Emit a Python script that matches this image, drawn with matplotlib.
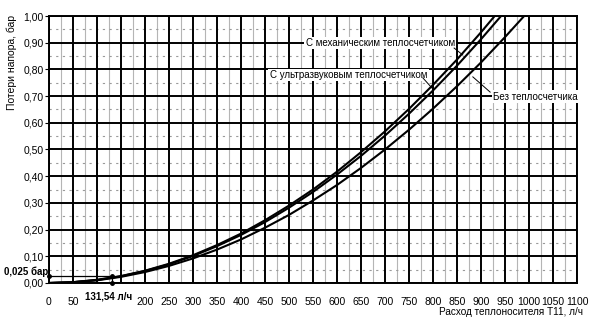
import matplotlib
matplotlib.use("Agg")
import matplotlib.pyplot as plt
import numpy as np

# Flow rate, l/h
flow = [0, 50, 100, 150, 200, 250, 300, 350, 400, 450, 500, 550, 600, 650,
        700, 750, 800, 850, 900, 950, 1000]
# Pressure loss, bar
loss_mech = [0, 0.003, 0.012, 0.026, 0.046, 0.072, 0.104, 0.142, 0.185, 0.235,
             0.290, 0.350, 0.417, 0.490, 0.568, 0.652, 0.742, 0.837, 0.939, 1.046, 1.16]
loss_ultra = [0, 0.003, 0.011, 0.025, 0.045, 0.070, 0.101, 0.138, 0.180, 0.228,
              0.282, 0.341, 0.406, 0.476, 0.552, 0.634, 0.721, 0.814, 0.913, 1.017, 1.13]
loss_none = [0, 0.003, 0.010, 0.023, 0.041, 0.064, 0.092, 0.125, 0.163, 0.207,
             0.255, 0.309, 0.367, 0.431, 0.500, 0.574, 0.653, 0.737, 0.826, 0.921, 1.020]

x_ticks = list(range(0, 1101, 50))
y_ticks = [round(v * 0.1, 1) for v in range(11)]

min_flow = 131.54
min_loss = 0.025

plt.rcParams['font.family'] = ['Liberation Sans', 'DejaVu Sans']
fig = plt.figure(figsize=(5.98, 3.32), dpi=100)
ax = fig.add_axes([0.0819, 0.1476, 0.8830, 0.8042])

ax.set_xlim(0, 1100)
ax.set_ylim(0, 1.0)

# grid: heavy major lines, faint minor lines
for x in np.arange(25, 1100, 50):
    ax.axvline(x, color='#b5b5b5', lw=0.8, zorder=1)
for y in np.arange(0.05, 1.0, 0.1):
    ax.axhline(y, color='#9a9a9a', lw=0.8, ls=(0, (2, 4)), zorder=1)
for x in x_ticks:
    ax.axvline(x, color='black', lw=1.4, zorder=2)
for y in y_ticks:
    ax.axhline(y, color='black', lw=1.4, zorder=2)

for s in ax.spines.values():
    s.set_color('black')
    s.set_linewidth(1.4)

ax.plot(flow, loss_mech, color='black', lw=1.5, zorder=4)
ax.plot(flow, loss_ultra, color='black', lw=1.5, zorder=4)
ax.plot(flow, loss_none, color='black', lw=1.5, zorder=4)

# minimum flow marker
ax.plot([0, min_flow, min_flow], [min_loss, min_loss, 0], color='black',
        lw=0.9, zorder=5, clip_on=False)
ax.plot([0, min_flow, min_flow], [min_loss, min_loss, 0], 'o', color='black',
        ms=2.5, zorder=6, clip_on=False)

ax.set_xticks(x_ticks)
ax.set_xticklabels(['' if v in (100, 150) else str(v) for v in x_ticks], fontsize=7.5)
ax.set_yticks(y_ticks)
ax.set_yticklabels([f"{v:.2f}".replace('.', ',') for v in y_ticks], fontsize=7.5)
ax.tick_params(axis='x', length=0, pad=10)
ax.tick_params(axis='y', length=3, width=0.8, pad=1)

ax.text(124, -0.05, f"{min_flow:.2f}".replace('.', ',') + " л/ч", fontsize=7,
        fontweight='bold', ha='center', va='center')
ax.text(-1, 0.043, "0,025 бар", fontsize=7, fontweight='bold',
        ha='right', va='center')

ax.set_ylabel("Потери напора, бар", fontsize=7.5)
ax.yaxis.set_label_coords(-0.061, 0.824)
fig.text(0.975, 0.06, "Расход теплоносителя Т11, л/ч", fontsize=7.2,
         ha='right', va='center')

box = dict(boxstyle='square,pad=0.15', fc='white', ec='none')
ax.text(535, 0.899, "С механическим теплосчетчиком", fontsize=7,
        ha='left', va='center', bbox=box, zorder=7)
ax.plot([844, 862], [0.880, 0.854], color='black', lw=0.7, zorder=7)
ax.text(460, 0.779, "С ультразвуковым теплосчетчиком", fontsize=7,
        ha='left', va='center', bbox=box, zorder=7)
ax.plot([779, 798], [0.768, 0.730], color='black', lw=0.7, zorder=7)
ax.text(925, 0.697, "Без теплосчетчика", fontsize=7,
        ha='left', va='center', bbox=box, zorder=7)
ax.plot([919, 883], [0.715, 0.772], color='black', lw=0.7, zorder=7)

fig.savefig("out.png", dpi=100)
